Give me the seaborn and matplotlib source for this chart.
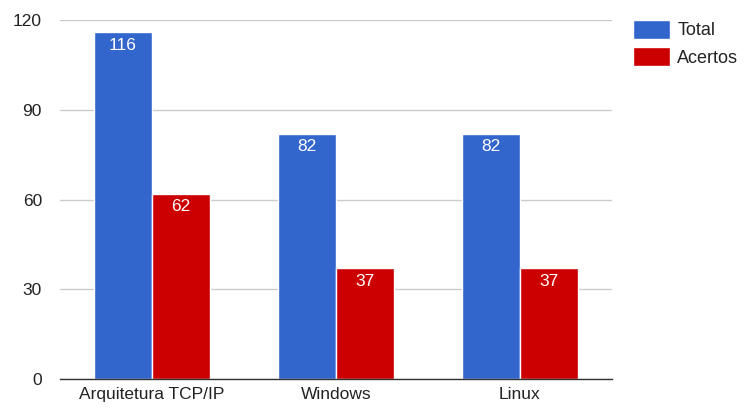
import matplotlib
matplotlib.use("Agg")
import matplotlib.pyplot as plt
import seaborn as sns
import pandas as pd

categories = ["Arquitetura TCP/IP", "Windows", "Linux"]
series_names = ["Total", "Acertos"]
total = [116, 82, 82]
acertos = [62, 37, 37]
y_ticks = [0, 30, 60, 90, 120]
colors = ["#3366CC", "#CC0000"]

df = pd.DataFrame({
    "cat": categories * 2,
    "serie": [series_names[0]] * 3 + [series_names[1]] * 3,
    "val": total + acertos,
})

sns.set_theme(style="white")
plt.rcParams["font.family"] = ["Liberation Sans", "DejaVu Sans"]

FS = 12.5
fig = plt.figure(figsize=(7.44, 4.12), dpi=100)
ax = fig.add_axes([60 / 744, 33 / 412, 552 / 744, 359 / 412])

sns.barplot(data=df, x="cat", y="val", hue="serie", order=categories,
            hue_order=series_names, palette=colors, width=0.63,
            edgecolor="white", linewidth=1, saturation=1, ax=ax, legend=True)

ax.set_ylim(0, 120)
ax.set_yticks(y_ticks)
ax.set_yticklabels([str(t) for t in y_ticks], fontsize=FS, color="#222222")
ax.set_xticks(range(len(categories)))
ax.set_xticklabels(categories, fontsize=FS, color="#222222")
ax.tick_params(axis="y", length=0, pad=13)
ax.tick_params(axis="x", length=0, pad=6)
ax.set_xlabel("")
ax.set_ylabel("")
ax.yaxis.grid(True, color="#CCCCCC", linewidth=1)
ax.set_axisbelow(True)
for s in ["top", "right", "left"]:
    ax.spines[s].set_visible(False)
ax.spines["bottom"].set_color("#333333")
ax.spines["bottom"].set_linewidth(1)
ax.spines["bottom"].set_zorder(5)

for cont in ax.containers:
    for bar in cont:
        h = bar.get_height()
        ax.annotate(f"{int(h)}", (bar.get_x() + bar.get_width() / 2, h),
                    xytext=(0, -4), textcoords="offset points",
                    ha="center", va="top", color="white", fontsize=FS)

leg = ax.legend(loc="upper left", bbox_to_anchor=((633 - 60) / 552, 1.0),
                frameon=False, fontsize=13, handlelength=2.05, handleheight=1.2,
                handletextpad=0.4, labelspacing=0.45, borderaxespad=0,
                borderpad=0)
for t in leg.get_texts():
    t.set_color("#222222")

fig.savefig("out.png", dpi=100)
